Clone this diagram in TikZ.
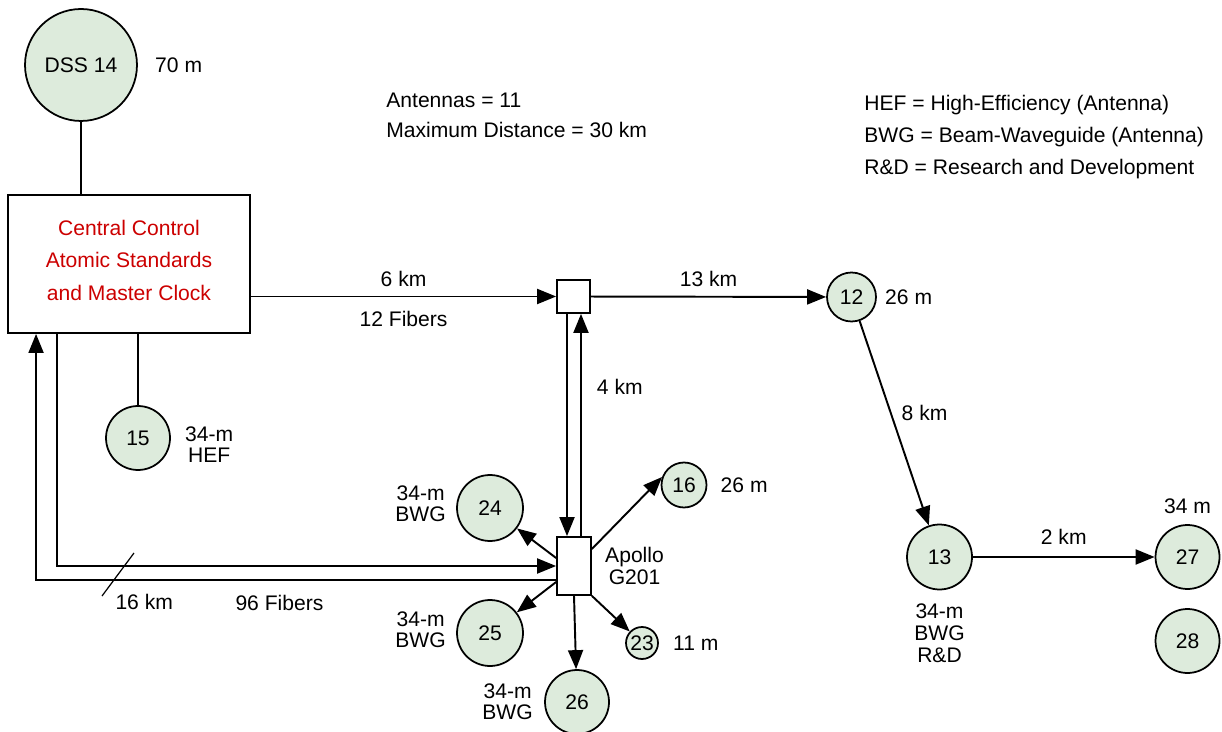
\documentclass[tikz,border=0pt]{standalone}
\usepackage{fontspec}
\setmainfont{Liberation Sans}
\usepackage{tikz}
\usetikzlibrary{arrows.meta,positioning}
\definecolor{dishgreen}{RGB}{221,235,220}
\definecolor{ctrlred}{RGB}{204,0,0}

\begin{document}
\begin{tikzpicture}[
    x=0.02cm, y=-0.02cm,
    font=\fontsize{12}{12}\selectfont,
    station/.style={circle, draw, fill=dishgreen, inner sep=0pt, line width=1pt},
    hub/.style={rectangle, draw, fill=white, inner sep=0pt, line width=1pt},
    lbl/.style={inner sep=0pt, align=center},
    link/.style={line width=1.1pt},
    arrow/.style={-{Triangle[length=3.8mm,width=3mm]}, line width=1.1pt}
]
\useasboundingbox (0,0) rectangle (1222,732);

\node[station, minimum size=2.24cm] (dss14) at (81,65) {DSS 14};
\node[lbl, right=0.34cm of dss14] (dss14lbl) {70 m};
\node[rectangle, draw, line width=1.1pt, minimum width=4.84cm, minimum height=2.76cm, text=ctrlred, align=center, text depth=0.15cm, font=\fontsize{12}{18.4}\selectfont] (central) at (129,264) {Central Control\\Atomic Standards\\and Master Clock};
\node[station, minimum size=1.28cm] (s15) at (138,438) {15};
\node[lbl, right=0.28cm of s15, yshift=-0.14cm] (s15lbl) {34-m\\HEF};

\node[lbl, anchor=west, align=left, font=\fontsize{12}{17}\selectfont] (stats) at (386,115) {Antennas = 11\\Maximum Distance = 30 km};
\node[lbl, anchor=west, align=left, font=\fontsize{12}{18.1}\selectfont] (legend) at (864,137) {HEF = High-Efficiency (Antenna)\\BWG = Beam-Waveguide (Antenna)\\R\&D = Research and Development};

\node[hub, minimum size=0.66cm] (jct) at (573.5,296.5) {};
\node[station, minimum size=0.98cm] (s12) at (851.5,297) {12};
\node[lbl, right=0.16cm of s12] (s12lbl) {26 m};
\node[station, minimum size=1.3cm] (s13) at (939.5,557) {13};
\node[lbl, below=0.26cm of s13, font=\fontsize{12}{12.5}\selectfont] (s13lbl) {34-m\\BWG\\R\&D};
\node[station, minimum size=1.28cm] (s27) at (1187.5,557) {27};
\node[lbl, above=0.2cm of s27] (s27lbl) {34 m};
\node[station, minimum size=1.28cm] (s28) at (1187.5,641) {28};

\node[hub, minimum width=0.68cm, minimum height=1.16cm] (apollo) at (574,566) {};
\node[lbl, right=0.26cm of apollo] (apollolbl) {Apollo\\G201};
\node[station, minimum size=1.32cm] (s24) at (490,508) {24};
\node[lbl, left=0.2cm of s24, yshift=0.09cm] (s24lbl) {34-m\\BWG};
\node[station, minimum size=0.9cm] (s16) at (684,485) {16};
\node[lbl, right=0.26cm of s16] (s16lbl) {26 m};
\node[station, minimum size=1.32cm] (s25) at (490,633) {25};
\node[lbl, left=0.2cm of s25, yshift=0.06cm] (s25lbl) {34-m\\BWG};
\node[station, minimum size=1.28cm] (s26) at (577,702) {26};
\node[lbl, left=0.22cm of s26] (s26lbl) {34-m\\BWG};
\node[station, minimum size=0.64cm] (s23) at (642,643) {23};
\node[lbl, right=0.28cm of s23] (s23lbl) {11 m};

\draw[link] (dss14) -- (dss14 |- central.north);
\draw[link] (central.south -| s15) -- (s15);
\draw[arrow] (central.east |- jct) -- node[lbl, above=0.18cm] {6 km} node[lbl, below=0.27cm] {12 Fibers} (jct);
\draw[arrow] (jct) -- node[lbl, above=0.18cm] {13 km} (s12);
\draw[arrow] (s12) -- node[lbl, pos=0.45, right=0.2cm] {8 km} (s13);
\draw[arrow] (s13) -- node[lbl, above=0.24cm] {2 km} (s27);

\draw[arrow] ([xshift=-0.13cm]jct.south) -- ([xshift=-0.13cm]jct.south |- apollo.north);
\draw[arrow] ([xshift=0.14cm]apollo.north) -- node[lbl, pos=0.67, right=0.3cm] {4 km} ([xshift=0.14cm]apollo.north |- jct.south);

\draw[arrow] ([xshift=1cm]central.south west) |- (apollo.west);
\draw[arrow] ([yshift=-0.28cm]apollo.west) -| node[lbl, pos=0.266, below=0.28cm] {96 Fibers} node[lbl, pos=0.396, below=0.27cm] {16 km} ([xshift=0.58cm]central.south west);
\draw[line width=0.7pt] (102,596) -- (134,553);

\draw[arrow] ([yshift=0.16cm]apollo.west) -- (s24);
\draw[arrow] ([yshift=0.34cm]apollo.east) -- (s16.160);
\draw[arrow] ([yshift=-0.32cm]apollo.west) -- (s25);
\draw[arrow] (apollo.south) -- (s26);
\draw[arrow] (apollo.south east) -- (s23);
\end{tikzpicture}
\end{document}
